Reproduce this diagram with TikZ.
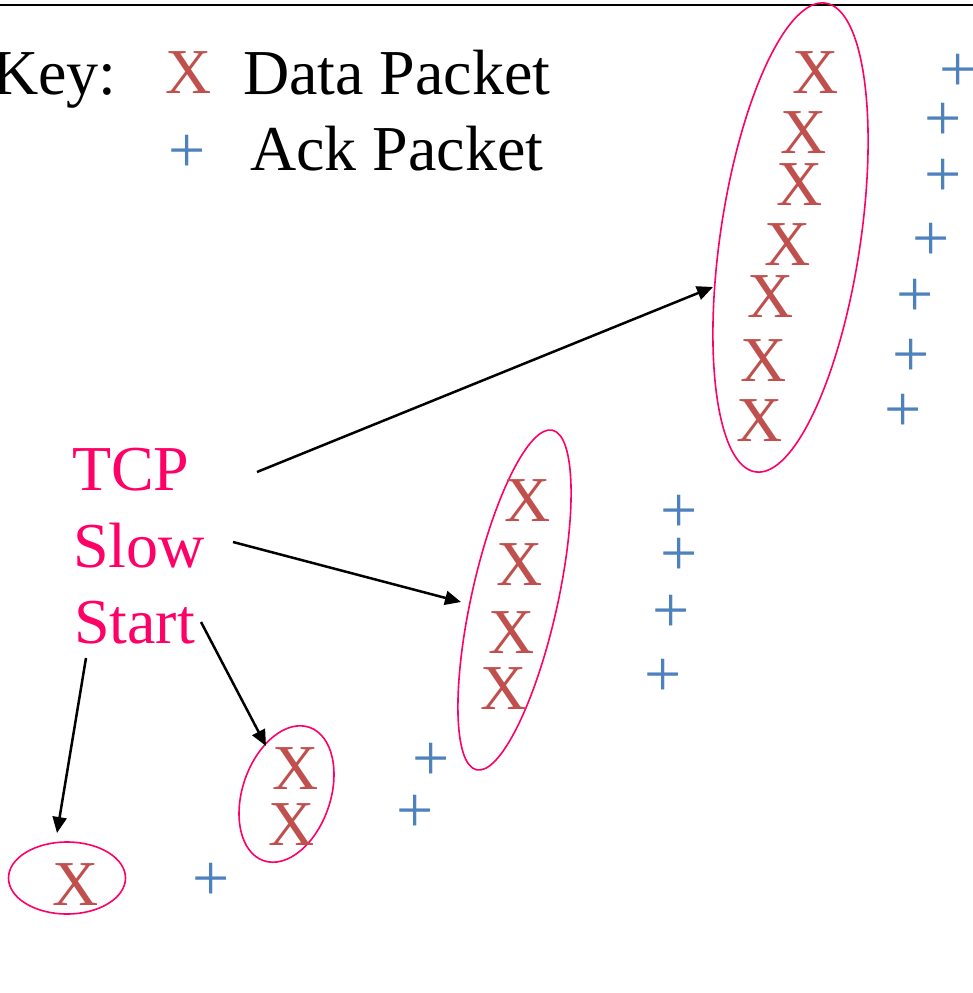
\documentclass[tikz,border=0pt]{standalone}
\usepackage{fontspec}
\setmainfont{Liberation Serif}
\usetikzlibrary{arrows.meta,shapes.geometric}
\definecolor{xred}{HTML}{C0504D}
\definecolor{ackblue}{HTML}{4F81BD}
\definecolor{mag}{HTML}{FF0066}
\begin{document}
\begin{tikzpicture}[x=1pt,y=-1pt,
  bigtext/.style={font=\fontsize{64}{77}\selectfont, inner sep=0pt, outer sep=0pt},
  dat/.style={bigtext, text=xred},
  ack/.style={font=\fontsize{66}{70}\selectfont, text=ackblue, inner sep=0pt, outer sep=0pt},
  grp/.style={draw=mag, line width=1.6pt, ellipse, inner sep=0pt, outer sep=0pt},
  arr/.style={-{Triangle[length=16pt,width=14pt]}, line width=2.5pt},
  lbl/.style={bigtext, text=mag, anchor=base west},
  keytext/.style={bigtext, anchor=base west}]

\useasboundingbox (0,0) rectangle (973,993);
\draw[line width=2pt] (0,5) -- (973,5);

% key
\node[keytext] (key) at (-8,94) {Key:};
\node[dat] (kx) at (188.5,73) {X};
\node[keytext] (kdata) at (243,94) {Data Packet};
\node[ack] (kplus) at (187,154) {+};
\node[keytext] (kack) at (250,170) {Ack Packet};

% label
\node[lbl] (tcp) at (72,490) {TCP};
\node[lbl] (slow) at (73,567) {Slow};
\node[lbl] (start) at (74,643) {Start};

% groups (ellipses)
\node[grp, minimum width=117pt, minimum height=72pt] (g1) at (67,878) {};
\node[grp, minimum width=88pt, minimum height=141pt, rotate=-18.9] (g2) at (286.5,794) {};
\node[grp, minimum width=86pt, minimum height=348pt, rotate=-12.6] (g3) at (514.5,600) {};
\node[grp, minimum width=140pt, minimum height=474pt, rotate=-8.5] (g4) at (790.5,237.5) {};

% data packets
\node[dat] (x11) at (76,885) {X};
\node[dat] (x21) at (296,769) {X};
\node[dat] (x22) at (292,825) {X};
\node[dat] (x31) at (527.5,501) {X};
\node[dat] (x32) at (520,565) {X};
\node[dat] (x33) at (511.5,633) {X};
\node[dat] (x34) at (504,689) {X};
\node[dat] (x41) at (816,73) {X};
\node[dat] (x42) at (804,133) {X};
\node[dat] (x43) at (800,185) {X};
\node[dat] (x44) at (788,245) {X};
\node[dat] (x45) at (771,297) {X};
\node[dat] (x46) at (764,361) {X};
\node[dat] (x47) at (760,421) {X};

% ack packets
\node[ack] (p11) at (211,882) {+};
\node[ack] (p21) at (431,762) {+};
\node[ack] (p22) at (415,814) {+};
\node[ack] (p31) at (679,514) {+};
\node[ack] (p32) at (679,557) {+};
\node[ack] (p33) at (671,614) {+};
\node[ack] (p34) at (663,678) {+};
\node[ack] (p41) at (958,73) {+};
\node[ack] (p42) at (943,122) {+};
\node[ack] (p43) at (943,178) {+};
\node[ack] (p44) at (931,242) {+};
\node[ack] (p45) at (915,298) {+};
\node[ack] (p46) at (911,358) {+};
\node[ack] (p47) at (903,413) {+};

% arrows
\coordinate (a1s) at (257,472); \coordinate (a1e) at (713,287);
\coordinate (a2s) at (233,542); \coordinate (a2e) at (461,602);
\coordinate (a3s) at (201,622); \coordinate (a3e) at (266,746);
\coordinate (a4s) at (86,658);  \coordinate (a4e) at (57,833);
\draw[arr] (a1s) -- (a1e);
\draw[arr] (a2s) -- (a2e);
\draw[arr] (a3s) -- (a3e);
\draw[arr] (a4s) -- (a4e);
\end{tikzpicture}
\end{document}
